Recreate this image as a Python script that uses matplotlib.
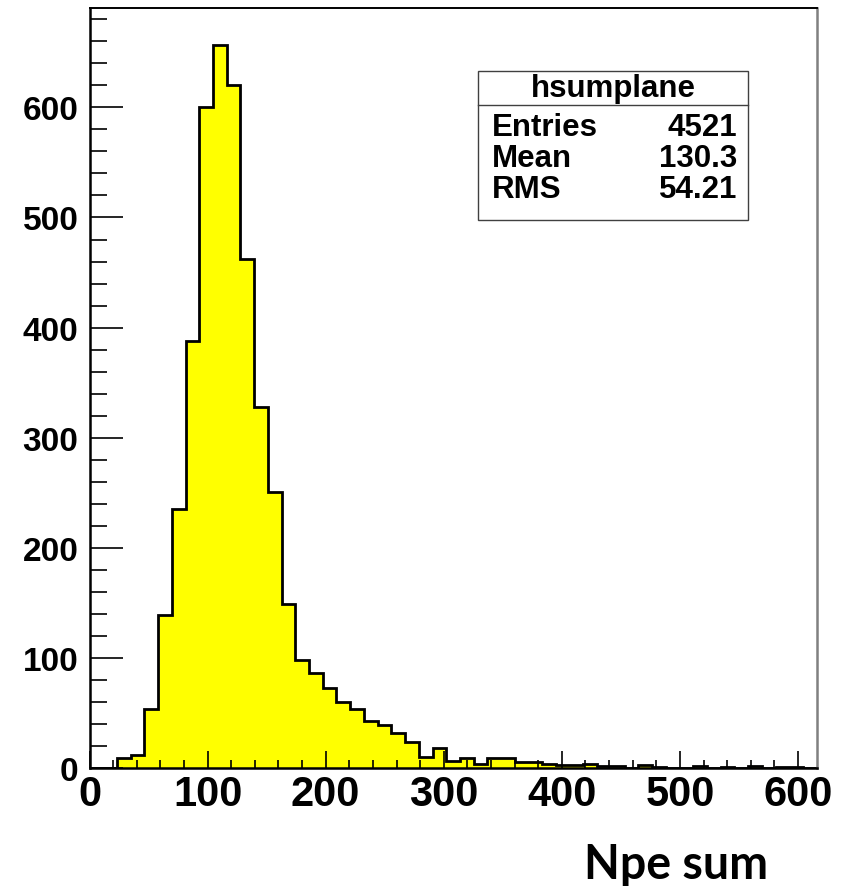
import matplotlib
matplotlib.use("Agg")
import matplotlib.pyplot as plt
from matplotlib.patches import Rectangle
from matplotlib.lines import Line2D
import numpy as np

# histogram "hsumplane": 53 bins from 0 to ~616
x_lo = 0.0
bin_width = 11.62
counts = [0, 0, 9, 12, 54, 139, 235, 388, 600, 657,
          620, 462, 328, 251, 149, 98, 86, 73, 60, 54,
          43, 39, 32, 24, 10, 18, 6, 9, 4, 9,
          9, 5, 5, 4, 3, 3, 4, 2, 2, 0,
          3, 1, 0, 0, 2, 0, 1, 0, 2, 0,
          1, 1, 0]
stat_names = ["Entries", "Mean", "RMS"]
stat_values = ["4521", "130.3", "54.21"]
hist_name = "hsumplane"
x_title = "Npe sum"

edges = x_lo + bin_width * np.arange(len(counts) + 1)

W, H = 843, 887
fig = plt.figure(figsize=(W / 100, H / 100), dpi=100)
ax = fig.add_axes([89.5 / W, 1 - 769 / H, (816.7 - 89.5) / W, (769 - 9.3) / H])

ax.stairs(counts, edges, fill=True, color="#ffff00", zorder=1)
ax.stairs(counts, edges, baseline=0, color="black", lw=2.0, zorder=1.5)

ax.set_xlim(edges[0], edges[-1])
ax.set_ylim(0, 690)

ax.set_xticks(np.arange(0, 601, 100))
ax.set_xticks(np.arange(0, 601, 20), minor=True)
ax.set_yticks(np.arange(0, 601, 100))
ax.set_yticks(np.arange(0, 690, 20), minor=True)

lab = dict(family="Liberation Sans", weight="bold")
ax.set_xticklabels([str(v) for v in range(0, 601, 100)], fontsize=30, **lab)
ax.set_yticklabels([str(v) for v in range(0, 601, 100)], fontsize=24, **lab)

ax.tick_params(axis="x", which="major", direction="in", length=12, width=1.2, pad=4)
ax.tick_params(axis="x", which="minor", direction="in", length=6, width=1.2)
ax.tick_params(axis="y", which="major", direction="in", length=24, width=1.2, pad=8)
ax.tick_params(axis="y", which="minor", direction="in", length=12, width=1.2)

for s in ["left", "bottom"]:
    ax.spines[s].set_linewidth(1.8)
ax.spines["top"].set_linewidth(1.4)
ax.spines["right"].set_color("#808080")
ax.spines["right"].set_linewidth(1.8)

# stats box
bl, br, bt, bb = 478.3 / W, 748.3 / W, 1 - 71.7 / H, 1 - 221 / H
fig.add_artist(Rectangle((bl, bb), br - bl, bt - bb, transform=fig.transFigure,
                         facecolor="white", edgecolor="#404040", lw=1.0, zorder=5))
sep = 1 - 105.7 / H
fig.add_artist(Line2D([bl, br], [sep, sep], transform=fig.transFigure,
                      color="#404040", lw=1.0, zorder=6))
fig.text((bl + br) / 2, 1 - 97.3 / H, hist_name, ha="center", va="baseline",
         fontsize=22.5, zorder=7, **lab)
row_base = [136, 167, 198.5]
for name, val, yb in zip(stat_names, stat_values, row_base):
    fig.text(492 / W, 1 - yb / H, name, ha="left", va="baseline",
             fontsize=22.5, zorder=7, **lab)
    fig.text(737 / W, 1 - yb / H, val, ha="right", va="baseline",
             fontsize=22.5, zorder=7, **lab)

fig.text(768 / W, 1 - 879 / H, x_title, ha="right", va="baseline",
         fontsize=33.5, family="Lato", weight="bold")

fig.savefig("out.png", dpi=100)
